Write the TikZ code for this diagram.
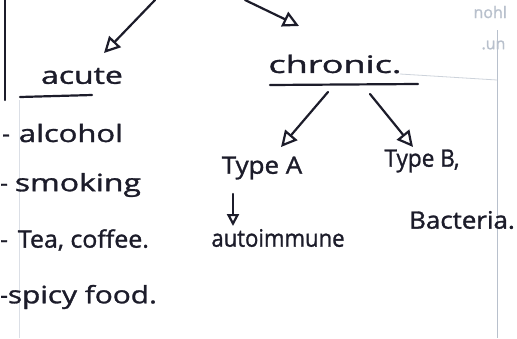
\documentclass[tikz,border=0pt]{standalone}
\usepackage{graphicx}
\usepackage{fontspec}
\setmainfont{Open Sans}[FakeBold=1.2]
\usetikzlibrary{arrows.meta}
\definecolor{ink}{HTML}{1C1C2A}
\definecolor{faint}{HTML}{B8C0CC}
\newcommand{\wide}[2]{\scalebox{#1}[1]{#2}}
\tikzset{
  word/.style={text=ink, font=\fontsize{24}{28}\selectfont, inner sep=0pt},
  listword/.style={word, anchor=west},
  pen/.style={draw=ink, line width=2.2pt, line cap=round},
  arr/.style={pen, -{Triangle[open, length=16pt, width=16pt]}},
  ghost/.style={draw=faint, line width=0.8pt}
}
\begin{document}
\begin{tikzpicture}[x=1pt, y=-1pt]
  \useasboundingbox[fill=white] (0,0) rectangle (517,338);

  % page margins
  \draw[pen, line width=2.4pt] (5,0) -- (5,100);
  \draw[ghost, draw=faint!50] (19,100) -- (19,338);
  \draw[ghost] (497,30) -- (497,338);
  \draw[ghost, draw=faint!70] (400,74) -- (497,80);
  \node[text=faint, font=\fontsize{16}{18}\selectfont, anchor=west] (ghosta) at (470,12) {nohl};
  \node[text=faint, font=\fontsize{16}{18}\selectfont, anchor=west] (ghostb) at (478,45) {.un};

  % arrow starts at the top edge
  \coordinate (topl) at (155,0);
  \coordinate (topr) at (245,0);

  % headings
  \node[word] (acute) at (82,76) {\wide{1.33}{acute}};
  \node[word] (chronic) at (335,64) {\wide{1.5}{chronic.}};
  \draw[pen] (20,97) -- (92,95);
  \draw[pen] (270,85) -- (418,84);

  \draw[arr] (topl) -- (104,53);
  \draw[arr] (topr) -- (299,26);

  % chronic branches
  \node[word] (typea) at (262,168) {\wide{1.08}{Type A}};
  \node[word] (typeb) at (422,161) {\wide{0.94}{Type B,}};
  \coordinate (ca) at (328,92);
  \coordinate (cb) at (370,94);
  \draw[arr] (ca) -- (281,147);
  \draw[arr] (cb) -- (413,147);

  \node[word] (auto) at (278,238) {\wide{0.92}{autoimmune}};
  \node[word] (bact) at (462,220) {\wide{1.08}{Bacteria.}};
  \draw[arr, -{Triangle[open, length=12pt, width=12pt]}] (233,194) -- (233,226);

  % acute causes
  \node[listword] (l1) at (2,133) {-\hspace{9pt}\wide{1.29}{alcohol}};
  \node[listword] (l2) at (0,185) {-\hspace{7pt}\wide{1.33}{smoking}};
  \node[listword] (l3) at (0,240) {-\hspace{10pt}\wide{1.04}{Tea, coffee.}};
  \node[listword] (l4) at (0,297) {-\wide{1.24}{spicy food.}};
\end{tikzpicture}
\end{document}
